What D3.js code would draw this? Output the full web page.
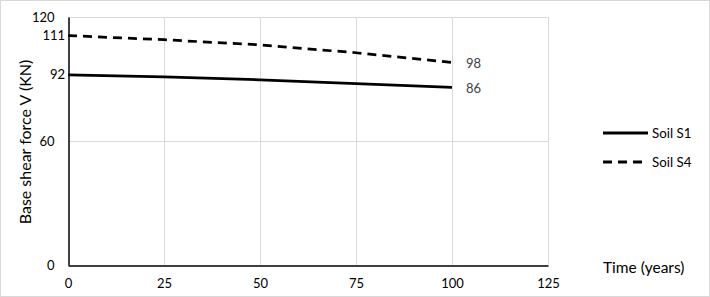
<!DOCTYPE html>
<html>
<head>
<meta charset="utf-8">
<script src="https://cdn.jsdelivr.net/npm/d3@7"></script>
<style>
  body { margin: 0; background: #fff; }
  text { font-family: Lato, "Open Sans", sans-serif; }
</style>
</head>
<body>
<script>
var w = 710,
    h = 297;

// values
var years = [0, 25, 50, 75, 100];
var soilS1 = [92, 91, 89.6, 87.8, 86];
var soilS4 = [111, 109, 106.5, 102.7, 98];
var xTicks = [0, 25, 50, 75, 100, 125];
var yTicks = [0, 60, 120];
var seriesNames = ["Soil S1", "Soil S4"];

var x = d3.scaleLinear().domain([0, 125]).range([68, 548]);
var y = d3.scaleLinear().domain([0, 120]).range([265, 17]);

var svg = d3.select("body")
            .append("svg")
            .attr("width", w)
            .attr("height", h);

// chart border
svg.append("rect")
    .attr("x", 0.5).attr("y", 0.5)
    .attr("width", w - 1).attr("height", h - 1)
    .attr("fill", "none")
    .attr("stroke", "#d9d9d9");

// gridlines
svg.selectAll("line.vgrid")
    .data(xTicks.slice(1))
    .enter()
    .append("line")
    .attr("x1", function(d) { return Math.round(x(d)) + 0.5; })
    .attr("x2", function(d) { return Math.round(x(d)) + 0.5; })
    .attr("y1", y(120))
    .attr("y2", y(0))
    .attr("stroke", "#d9d9d9");

svg.selectAll("line.hgrid")
    .data(yTicks.slice(1))
    .enter()
    .append("line")
    .attr("x1", x(0))
    .attr("x2", x(125))
    .attr("y1", function(d) { return Math.round(y(d)) + 0.5; })
    .attr("y2", function(d) { return Math.round(y(d)) + 0.5; })
    .attr("stroke", "#d9d9d9");

// axes
var xAxis = d3.axisBottom(x).tickValues(xTicks).tickSize(0).tickPadding(13);
var yAxis = d3.axisLeft(y).tickValues(yTicks).tickSize(0).tickPadding(14);

var gx = svg.append("g").attr("transform", "translate(0," + (y(0) + 0.5) + ")").call(xAxis);
var gy = svg.append("g").attr("transform", "translate(" + (x(0) + 0.5) + ",0)").call(yAxis);

[gx, gy].forEach(function(g) {
    g.select(".domain").attr("stroke", "#000").attr("stroke-width", 1.5);
    g.selectAll("text")
        .attr("font-family", "Lato, 'Open Sans', sans-serif")
        .attr("font-size", "13px")
        .attr("fill", "#000");
});

// series lines
var line = d3.line()
    .x(function(d, i) { return x(years[i]); })
    .y(function(d) { return y(d); });

svg.append("path")
    .datum(soilS1)
    .attr("d", line)
    .attr("fill", "none")
    .attr("stroke", "#000")
    .attr("stroke-width", 2.75);

svg.append("path")
    .datum(soilS4)
    .attr("d", line)
    .attr("fill", "none")
    .attr("stroke", "#000")
    .attr("stroke-width", 2.75)
    .attr("stroke-dasharray", "9,6");

// data labels at first and last points
var first = [soilS1[0], soilS4[0]];
var last = [soilS1[soilS1.length - 1], soilS4[soilS4.length - 1]];

svg.selectAll("text.first")
    .data(first)
    .enter()
    .append("text")
    .text(function(d) { return d; })
    .attr("x", x(0) - 3)
    .attr("y", function(d) { return y(d); })
    .attr("dy", "0.35em")
    .attr("text-anchor", "end")
    .attr("font-size", "13px")
    .attr("fill", "#000");

svg.selectAll("text.last")
    .data(last)
    .enter()
    .append("text")
    .text(function(d) { return d; })
    .attr("x", x(100) + 14)
    .attr("y", function(d) { return y(d) + 1; })
    .attr("dy", "0.35em")
    .attr("font-size", "13px")
    .attr("fill", "#404040");

// axis titles
svg.append("text")
    .text("Base shear  force V (KN)")
    .attr("transform", "translate(31,142) rotate(-90)")
    .attr("text-anchor", "middle")
    .attr("font-size", "16px")
    .attr("fill", "#000");

svg.append("text")
    .text("Time (years)")
    .attr("x", 603)
    .attr("y", 273)
    .attr("font-size", "15.5px")
    .attr("fill", "#000");

// legend
var legend = svg.selectAll("g.legend")
    .data(seriesNames)
    .enter()
    .append("g")
    .attr("transform", function(d, i) { return "translate(603," + (133 + i * 29) + ")"; });

legend.append("line")
    .attr("x1", 0)
    .attr("x2", 45)
    .attr("stroke", "#000")
    .attr("stroke-width", 3)
    .attr("stroke-dasharray", function(d, i) { return i ? "9,6" : null; });

legend.append("text")
    .text(function(d) { return d; })
    .attr("x", 49)
    .attr("dy", "0.35em")
    .attr("font-size", "13.3px")
    .attr("fill", "#000");
</script>
</body>
</html>
